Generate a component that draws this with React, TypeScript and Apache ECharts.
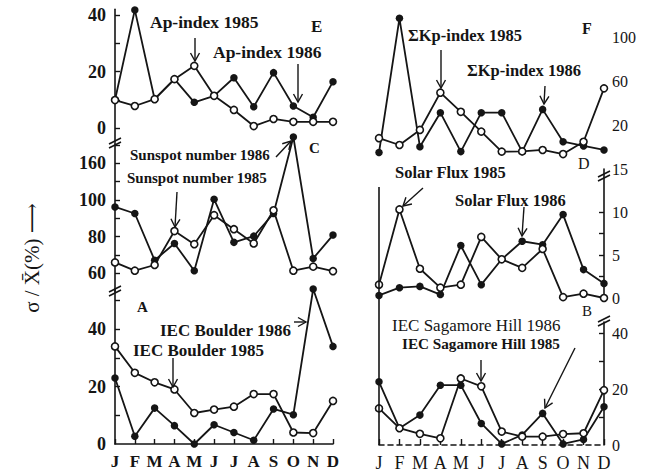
import { useEffect, useRef } from 'react';
import * as echarts from 'echarts';

const months = ['Jan', 'Feb', 'Mar', 'Apr', 'May', 'Jun', 'Jul', 'Aug', 'Sep', 'Oct', 'Nov', 'Dec'];

// Panel E – Ap-index
const ap1985 = [9.9, 7.8, 10.2, 17.3, 22.0, 11.4, 6.4, 0.7, 3.2, 2.2, 2.2, 2.2];
const ap1986 = [9.9, 41.8, 10.2, 17.3, 9.1, 11.4, 17.8, 7.5, 19.6, 7.8, 3.8, 16.4];
// Panel C – Sunspot number (broken axis, values in axis units)
const sunspot1985 = [65.8, 61.3, 64.4, 83.0, 75.8, 91.7, 84.0, 76.2, 94.4, 61.3, 63.5, 61.0];
const sunspot1986 = [96.2, 92.6, 67.0, 76.2, 61.3, 100.4, 76.8, 80.2, 92.6, 134.5, 68.0, 80.8];
// Panel A – IEC Boulder
const boulder1985 = [34.0, 24.8, 21.5, 19.0, 10.8, 12.0, 13.0, 17.4, 17.4, 4.0, 3.8, 15.0];
const boulder1986 = [23.0, 2.7, 12.5, 6.4, 0.0, 6.7, 4.0, 1.3, 12.2, 10.2, 54.0, 34.0];
// Panel F – ΣKp-index
const kp1985 = [8.0, 1.8, 15.5, 49.4, 32.0, 14.0, -4.2, -4.0, -2.7, -6.4, 4.8, 53.3];
const kp1986 = [-5.0, 117.0, 0.3, 31.2, -4.2, 31.2, 31.2, -4.2, 34.2, 4.8, 1.0, -2.7];
// Panel D – Solar flux
const flux1985 = [1.55, 10.3, 3.4, 1.2, 1.55, 7.1, 4.5, 3.5, 5.7, 0.1, 0.5, 0.0];
const flux1986 = [0.3, 1.2, 1.35, 0.4, 6.1, 1.55, 4.5, 6.6, 6.2, 9.7, 3.3, 1.7];
// Panel B – IEC Sagamore Hill
const sag1985 = [13.1, 6.0, 4.0, 2.4, 23.8, 21.0, 4.8, 3.0, 3.0, 3.9, 4.2, 19.6];
const sag1986 = [22.6, 6.0, 10.7, 21.4, 21.4, 7.7, 0.4, 3.6, 11.3, 0.4, 2.0, 13.7];

// Tick labels
const apTicks = [0, 20, 40];
const sunspotTickValues = [60, 80, 100, 120];
const sunspotTickLabels = ['60', '80', '100', '160'];
const boulderTicks = [0, 20, 40];
const kpTicks = [20, 60, 100];
const fluxTicks = [0, 5, 10, 15];
const sagTicks = [0, 20, 40];

const INK = '#151515';
const SERIF = '"Liberation Serif", "DejaVu Serif", serif';

function fitSize(text: string, target: number, weight: string, max: number) {
  const c = document.createElement('canvas').getContext('2d');
  if (!c) return max;
  c.font = `${weight} 100px ${SERIF}`;
  const w = c.measureText(text).width;
  return Math.max(12, Math.min(max, (100 * target) / w));
}

function label(text: string, x1: number, x2: number, y: number, weight = 'bold', max = 17.5) {
  const size = fitSize(text, x2 - x1, weight, max);
  return {
    type: 'text', x: x1, y, z: 100,
    style: { text, font: `${weight} ${size}px ${SERIF}`, fill: INK, textAlign: 'left', textVerticalAlign: 'middle' },
  };
}

function plain(text: string, x: number, y: number, size: number, weight = 'bold') {
  return {
    type: 'text', x, y, z: 100,
    style: { text, font: `${weight} ${size}px ${SERIF}`, fill: INK, textAlign: 'left', textVerticalAlign: 'middle' },
  };
}

function arrow(x1: number, y1: number, x2: number, y2: number) {
  const dx = x2 - x1, dy = y2 - y1, L = Math.hypot(dx, dy);
  const ux = dx / L, uy = dy / L, h = 8, w = 4.5;
  return [
    { type: 'line', z: 100, shape: { x1, y1, x2, y2 }, style: { stroke: INK, lineWidth: 1.4 } },
    {
      type: 'polyline', z: 100,
      shape: { points: [[x2 - ux * h - uy * w, y2 - uy * h + ux * w], [x2, y2], [x2 - ux * h + uy * w, y2 - uy * h - ux * w]] },
      style: { stroke: INK, lineWidth: 1.4, fill: 'none' },
    },
  ];
}

function brk(x: number, y: number) {
  return [
    { type: 'line', z: 100, shape: { x1: x - 6, y1: y + 1, x2: x + 6, y2: y - 5 }, style: { stroke: INK, lineWidth: 1.6 } },
    { type: 'line', z: 100, shape: { x1: x - 6, y1: y + 5, x2: x + 6, y2: y - 1 }, style: { stroke: INK, lineWidth: 1.6 } },
  ];
}

export default function App() {
  const ref = useRef<HTMLDivElement>(null);
  useEffect(() => {
    if (!ref.current) return;
    const chart = echarts.init(ref.current, undefined, { renderer: 'svg' });

    const grids = [
      { left: 115, width: 218, top: 9.35, height: 132.8 }, // E
      { left: 115, width: 218, top: 143.4, height: 147.9 }, // C
      { left: 115, width: 218, top: 289, height: 155 }, // A
      { left: 379, width: 225, top: 15, height: 143 }, // F
      { left: 379, width: 225, top: 169, height: 129 }, // D
      { left: 379, width: 225, top: 322, height: 123 }, // B
    ];

    const monthLabel = {
      interval: 0,
      formatter: (v: string) => v.charAt(0),
      color: INK, fontFamily: SERIF, fontWeight: 'bold' as const, fontSize: 17, margin: 9,
    };
    const xAxes = grids.map((_, i) => {
      const base: any = { type: 'category', gridIndex: i, data: months, boundaryGap: false };
      if (i === 2) {
        return {
          ...base,
          axisLine: { show: true, lineStyle: { color: INK, width: 1.6 } },
          axisTick: { show: true, inside: true, interval: 0, length: 5, lineStyle: { color: INK, width: 1.4 } },
          axisLabel: monthLabel,
        };
      }
      if (i === 5) {
        return {
          ...base,
          axisLine: { show: true, lineStyle: { color: INK, width: 1.6, type: [5, 4] } },
          axisTick: { show: true, inside: true, interval: 0, length: 6, lineStyle: { color: INK, width: 1.4 } },
          axisLabel: { ...monthLabel, fontWeight: 'normal' as const, fontSize: 18 },
        };
      }
      return { ...base, show: false };
    });

    const leftLabel = { color: INK, fontFamily: SERIF, fontWeight: 'bold' as const, fontSize: 18, margin: 9 };
    const rightLabel = { color: INK, fontFamily: SERIF, fontWeight: 'normal' as const, fontSize: 16, margin: 8 };
    const axLine = { show: true, lineStyle: { color: INK, width: 1.6 } };
    const tick = (vals: number[]) => ({ show: true, inside: true, length: 5, customValues: vals, lineStyle: { color: INK, width: 1.4 } });

    const yAxes: any[] = [
      {
        type: 'value', gridIndex: 0, min: -5, max: 42, position: 'left', splitLine: { show: false },
        axisLine: axLine, axisTick: tick([0, 10, 20, 30, 40]),
        axisLabel: { ...leftLabel, customValues: apTicks },
      },
      {
        type: 'value', gridIndex: 1, min: 50, max: 131, position: 'left', splitLine: { show: false },
        axisLine: axLine, axisTick: tick([60, 70, 80, 90, 100, 110, 120, 130]),
        axisLabel: {
          ...leftLabel, customValues: sunspotTickValues,
          formatter: (v: number) => sunspotTickLabels[sunspotTickValues.indexOf(v)] ?? '',
        },
      },
      {
        type: 'value', gridIndex: 2, min: 0, max: 54, position: 'left', splitLine: { show: false },
        axisLine: axLine, axisTick: tick([10, 20, 30, 40, 50]),
        axisLabel: { ...leftLabel, customValues: boulderTicks },
      },
      {
        type: 'value', gridIndex: 3, min: -10, max: 120, position: 'right', splitLine: { show: false },
        axisLine: { show: false }, axisTick: { show: false },
        axisLabel: { ...rightLabel, customValues: kpTicks },
      },
      {
        type: 'value', gridIndex: 4, min: 0, max: 15, position: 'right', splitLine: { show: false },
        axisLine: axLine, axisTick: tick([2.5, 5, 7.5, 10]),
        axisLabel: { ...rightLabel, customValues: fluxTicks },
      },
      {
        type: 'value', gridIndex: 5, min: 0, max: 44, position: 'right', splitLine: { show: false },
        axisLine: axLine, axisTick: tick([10, 20, 30, 40]),
        axisLabel: { ...rightLabel, customValues: sagTicks },
      },
    ];

    const ser = (gi: number, name: string, data: number[], open: boolean) => ({
      type: 'line', name, xAxisIndex: gi, yAxisIndex: gi, data,
      symbol: 'circle', symbolSize: open ? 7 : 7.5, showSymbol: true, clip: false,
      lineStyle: { color: INK, width: 1.8 },
      itemStyle: { color: open ? '#ffffff' : INK, borderColor: INK, borderWidth: open ? 1.6 : 0 },
      z: open ? 3 : 2,
    });

    const series = [
      ser(0, 'Ap-index 1985', ap1985, true),
      ser(0, 'Ap-index 1986', ap1986, false),
      ser(1, 'Sunspot number 1985', sunspot1985, true),
      ser(1, 'Sunspot number 1986', sunspot1986, false),
      ser(2, 'IEC Boulder 1985', boulder1985, true),
      ser(2, 'IEC Boulder 1986', boulder1986, false),
      ser(3, 'ΣKp-index 1985', kp1985, true),
      ser(3, 'ΣKp-index 1986', kp1986, false),
      ser(4, 'Solar Flux 1985', flux1985, true),
      ser(4, 'Solar Flux 1986', flux1986, false),
      ser(5, 'IEC Sagamore Hill 1985', sag1985, true),
      ser(5, 'IEC Sagamore Hill 1986', sag1986, false),
    ];

    const graphic: any[] = [
      // panel texts
      label('Ap-index 1985', 150, 268, 22),
      label('Ap-index 1986', 213, 332, 52),
      plain('Sunspot number 1986', 130, 155, 15),
      plain('Sunspot number 1985', 127, 178, 15),
      label('IEC Boulder 1986', 160, 292, 330, 'bold', 17),
      label('IEC Boulder 1985', 133, 268, 350, 'bold', 17),
      label('ΣKp-index 1985', 408, 543, 35, 'bold', 16.5),
      label('ΣKp-index 1986', 467, 600, 70, 'bold', 16.5),
      label('Solar Flux 1985', 395, 520, 172, 'bold', 16.5),
      label('Solar Flux 1986', 455, 583, 200, 'bold', 16.5),
      label('IEC Sagamore Hill 1986', 392, 585, 325, 'normal', 17),
      label('IEC Sagamore Hill 1985', 402, 560, 343, 'bold', 16),
      // panel letters
      plain('E', 311, 26, 17),
      plain('C', 309, 148, 15),
      plain('A', 137, 307, 15),
      plain('F', 582, 28, 16),
      plain('D', 578, 163, 16, 'normal'),
      plain('B', 582, 311, 15, 'normal'),
      // arrows
      ...arrow(195, 38, 195, 61),
      ...arrow(298, 64, 298, 102),
      ...arrow(276, 157, 291, 141),
      ...arrow(177, 192, 175, 227),
      ...arrow(294, 322, 306, 322),
      ...arrow(173, 358, 173, 387),
      ...arrow(441, 50, 441, 88),
      ...arrow(545, 86, 544, 104),
      ...arrow(423, 188, 403, 206),
      ...arrow(524, 207, 522, 236),
      ...arrow(481, 360, 481, 381),
      ...arrow(575, 348, 545, 408),
      // axis breaks
      ...brk(115, 143),
      ...brk(115, 291),
      ...brk(604, 176),
      ...brk(604, 321),
      // left border of right panels
      { type: 'line', z: 50, shape: { x1: 379, y1: 187, x2: 379, y2: 445 }, style: { stroke: INK, lineWidth: 1.6 } },
      // y-axis title
      {
        type: 'text', x: 32, y: 258, rotation: Math.PI / 2, z: 100,
        style: {
          text: 'σ / X\u0304(%) \u27F6', font: `normal 21px ${SERIF}`, fill: INK,
          textAlign: 'center', textVerticalAlign: 'middle',
        },
      },
    ];

    chart.setOption({
      animation: false,
      backgroundColor: '#ffffff',
      grid: grids,
      xAxis: xAxes,
      yAxis: yAxes,
      series,
      graphic,
    });
    return () => chart.dispose();
  }, []);

  return <div ref={ref} style={{ position: 'fixed', left: 0, top: 0, width: 659, height: 475 }} />;
}
